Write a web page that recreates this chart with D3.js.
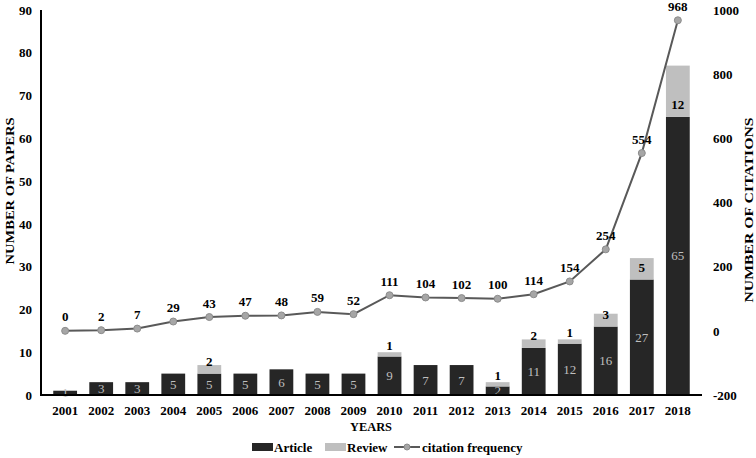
<!DOCTYPE html>
<html>
<head>
<meta charset="utf-8">
<script src="https://cdn.jsdelivr.net/npm/d3@7"></script>
<style>
  body { margin: 0; background: #fff; }
  svg text { font-family: "Liberation Serif", "Times New Roman", serif; }
</style>
</head>
<body>
<svg id="chart" width="756" height="458"></svg>
<script>
const years = ["2001","2002","2003","2004","2005","2006","2007","2008","2009",
  "2010","2011","2012","2013","2014","2015","2016","2017","2018"];
const articles = [1,3,3,5,5,5,6,5,5,9,7,7,2,11,12,16,27,65];
const reviews = [0,0,0,0,2,0,0,0,0,1,0,0,1,2,1,3,5,12];
const citations = [0,2,7,29,43,47,48,59,52,111,104,102,100,114,154,254,554,968];
const leftTicks = [0,10,20,30,40,50,60,70,80,90];
const rightTicks = [-200,0,200,400,600,800,1000];

const svg = d3.select("#chart");
const plotLeft = 41, plotRight = 702, plotTop = 10, plotBottom = 395;

const x = d3.scaleBand().domain(years).range([plotLeft, plotRight]).padding(0.34);
const yL = d3.scaleLinear().domain([0, 90]).range([plotBottom, plotTop]);
const yR = d3.scaleLinear().domain([-200, 1000]).range([plotBottom, plotTop]);

const rows = years.map((y, i) => ({ year: y, art: articles[i], rev: reviews[i], cit: citations[i] }));

// bars
svg.append("g").selectAll("rect").data(rows).enter().append("rect")
  .attr("x", d => x(d.year)).attr("width", x.bandwidth())
  .attr("y", d => yL(d.art)).attr("height", d => yL(0) - yL(d.art))
  .style("fill", "#262626");
svg.append("g").selectAll("rect").data(rows.filter(d => d.rev > 0)).enter().append("rect")
  .attr("x", d => x(d.year)).attr("width", x.bandwidth())
  .attr("y", d => yL(d.art + d.rev)).attr("height", d => yL(d.art) - yL(d.art + d.rev))
  .style("fill", "#bfbfbf");

// bar labels
svg.append("g").selectAll("text").data(rows).enter().append("text")
  .attr("x", d => x(d.year) + x.bandwidth() / 2)
  .attr("y", d => (yL(d.art) + yL(0)) / 2)
  .attr("text-anchor", "middle").attr("dominant-baseline", "central")
  .style("font-size", "13px").style("fill", "#bfbfbf")
  .text(d => d.art);
svg.append("g").selectAll("text").data(rows.filter(d => d.rev > 0)).enter().append("text")
  .attr("x", d => x(d.year) + x.bandwidth() / 2)
  .attr("y", d => Math.max(yL(d.art) - 12, yL(d.art + d.rev) - 7))
  .attr("text-anchor", "middle").attr("dominant-baseline", "central")
  .style("font-size", "13px").style("font-weight", "bold").style("fill", "#000")
  .text(d => d.rev);

// citation line
const cx = d => x(d.year) + x.bandwidth() / 2;
svg.append("path").datum(rows)
  .attr("d", d3.line().x(cx).y(d => yR(d.cit)))
  .style("fill", "none").style("stroke", "#595959").style("stroke-width", 2);
svg.append("g").selectAll("circle").data(rows).enter().append("circle")
  .attr("cx", cx).attr("cy", d => yR(d.cit)).attr("r", 3.5)
  .style("fill", "#a6a6a6").style("stroke", "#8c8c8c").style("stroke-width", 1);
svg.append("g").selectAll("text").data(rows).enter().append("text")
  .attr("x", cx).attr("y", d => yR(d.cit) - 14)
  .attr("text-anchor", "middle").attr("dominant-baseline", "central")
  .style("font-size", "13px").style("font-weight", "bold")
  .text(d => d.cit);

// axes
const tickStyle = g => {
  g.select(".domain").remove();
  g.selectAll("line").remove();
  g.selectAll("text").style("font-size", "13px").style("font-weight", "bold").style("fill", "#000")
    .style("font-family", "'Liberation Serif', serif");
};
svg.append("g").attr("transform", `translate(${plotLeft - 3},0)`)
  .call(d3.axisLeft(yL).tickValues(leftTicks).tickSize(0).tickPadding(6)).call(tickStyle);
svg.append("g").attr("transform", `translate(${plotRight + 5},0)`)
  .call(d3.axisRight(yR).tickValues(rightTicks).tickSize(0).tickPadding(6)
    .tickFormat(d => String(d))).call(tickStyle);
svg.append("g").attr("transform", `translate(0,${plotBottom + 5})`)
  .call(d3.axisBottom(x).tickSize(0).tickPadding(6)).call(tickStyle);

svg.append("line").attr("x1", plotLeft).attr("x2", plotLeft).attr("y1", plotTop).attr("y2", plotBottom + 1)
  .style("stroke", "#000").style("stroke-width", 2);
svg.append("line").attr("x1", plotLeft - 1).attr("x2", plotRight).attr("y1", plotBottom).attr("y2", plotBottom)
  .style("stroke", "#000").style("stroke-width", 2);

// axis titles
const title = (t, tx, ty, rot, size, len) => {
  const el = svg.append("text")
    .attr("transform", `translate(${tx},${ty}) rotate(${rot})`)
    .attr("text-anchor", "middle").attr("dominant-baseline", "central")
    .style("font-size", size + "px").style("font-weight", "bold").text(t);
  if (len) el.attr("textLength", len).attr("lengthAdjust", "spacingAndGlyphs");
};
title("NUMBER OF PAPERS", 9, 191, -90, 13, 147);
title("NUMBER OF CITATIONS", 748, 210, -90, 13, 185);
title("YEARS", 371, 426, 0, 13, 42);

// legend
const lg = svg.append("g").attr("transform", "translate(0,447)");
lg.append("rect").attr("x", 252).attr("y", -4).attr("width", 21).attr("height", 8).style("fill", "#262626");
lg.append("text").attr("x", 274).attr("y", 0).attr("dominant-baseline", "central")
  .style("font-size", "13px").style("font-weight", "bold").text("Article");
lg.append("rect").attr("x", 325).attr("y", -4).attr("width", 21).attr("height", 8).style("fill", "#bfbfbf");
lg.append("text").attr("x", 347).attr("y", 0).attr("dominant-baseline", "central")
  .style("font-size", "13px").style("font-weight", "bold").text("Review");
lg.append("line").attr("x1", 394).attr("x2", 420).attr("y1", 0).attr("y2", 0)
  .style("stroke", "#595959").style("stroke-width", 2);
lg.append("circle").attr("cx", 407).attr("cy", 0).attr("r", 3)
  .style("fill", "#a6a6a6").style("stroke", "#8c8c8c");
lg.append("text").attr("x", 422).attr("y", 0).attr("dominant-baseline", "central")
  .style("font-size", "13px").style("font-weight", "bold").text("citation frequency");
</script>
</body>
</html>
